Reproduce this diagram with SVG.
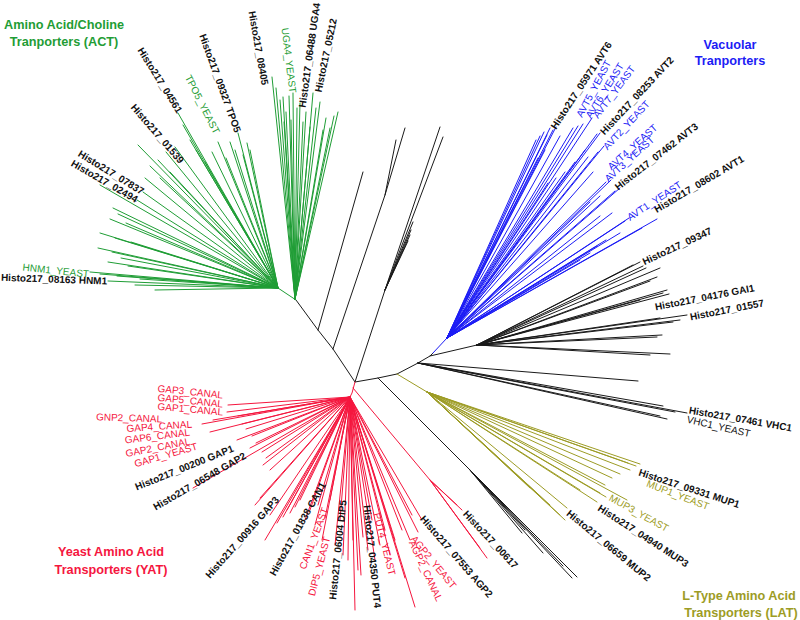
<svg xmlns="http://www.w3.org/2000/svg" width="800" height="620" viewBox="0 0 800 620">
<style>
.l{fill:none;stroke-width:1;stroke-linecap:round}
.lk{stroke:#1a1a1a}.lg{stroke:#1f9d35}.lb{stroke:#1c1cf5}.lr{stroke:#f5163e}.ly{stroke:#9d9c25}
text{font-family:"Liberation Sans",Arial,sans-serif;font-size:10px}
.b{font-weight:bold;fill:#111}
.k{fill:#111}
.g{fill:#1f9d35}.bl{fill:#1c1cf5}.r{fill:#f5163e}.y{fill:#9d9c25}
.e{text-anchor:end}
.t{font-size:12.7px;font-weight:bold;text-anchor:middle}
</style>
<rect width="800" height="620" fill="#fff"/>
<g id="backbone">
<path class="l lk" d="M296 300L318 330L333 349L355 382L378 378L397 374L418 363L430 356L433 353M430 356L477 345M318 330L363 172M333 349L385 195L405 128M385 195L396 140M355 382L385 290L440 127M385 290L443 137M385 290L413 222M385 290L411 230M385 290L410 235M385 290L408 241"/>
<path class="l lk" d="M477 345L633 265M477 345L640 262M477 345L643 266M477 345L646 268M477 345L660 268M477 345L657 277M477 345L650 281M477 345L663 293M477 345L667 290M477 345L669 294M477 345L640 300M477 345L687 315M477 345L673 322M477 345L680 320M477 345L660 318M477 345L657 337M477 345L662 335M477 345L650 355M477 345L670 354"/>
<path class="l lk" d="M418 363L638 381M418 363L663 406M418 363L675 412M418 363L687 413M418 363L667 419M418 363L660 416"/>
<path class="l lk" d="M378 378L470 470L577 577M470 470L572 578M470 470L563 566M470 470L543 553M470 470L525 530M470 470L522 533"/>
</g>
<g id="act">
<path class="l lg" d="M295 299L272 77M295 299L276 88M295 299L280 100M295 299L283 97M295 299L286 112M295 299L289 96M295 299L291 120M295 299L293 93M295 299L297 108M295 299L300 103M295 299L303 122M295 299L306 112M295 299L310 127M295 299L313 93M295 299L316 108M295 299L320 102M295 299L323 130M295 299L326 118M295 299L330 128M295 299L334 116M295 299L338 112M295 299L284 122"/>
<path class="l lg" d="M296 300L287 294L278 288M278 288L250 150M278 288L247 143M278 288L243 155M278 288L238 133M278 288L235 150M278 288L230 142M278 288L226 158M278 288L218 142M278 288L212 152M278 288L205 162M278 288L196 150M278 288L190 140M278 288L183 125M278 288L178 113M278 288L175 147M278 288L166 152M278 288L158 160M278 288L150 166M278 288L138 145M278 288L145 178M278 288L160 178M278 288L170 172M278 288L143 192M278 288L137 200M278 288L100 185M278 288L113 208M278 288L118 214M278 288L110 219M278 288L126 223M278 288L100 233M278 288L115 238M278 288L131 242M278 288L98 248M278 288L112 252M278 288L121 258M278 288L108 262M278 288L128 266M278 288L90 272M278 288L100 274M278 288L117 276M278 288L140 279M278 288L108 281M278 288L135 285M278 288L155 290"/>
<text class="g t" x="64" y="29">Amino Acid/Choline</text>
<text class="g t" x="64" y="46">Tranporters (ACT)</text>
<text class="b e" transform="translate(177 114) rotate(58)">Histo217_04561</text>
<text class="b e" transform="translate(179.4 164.3) rotate(49)">Histo217_01539</text>
<text class="g e" transform="translate(213.9 134.6) rotate(63)">TPO5_YEAST</text>
<text class="b e" transform="translate(234.7 133.2) rotate(70)">Histo217_09327 TPO5</text>
<text class="b e" transform="translate(261.6 85.6) rotate(80)">Histo217_08405</text>
<text class="g e" transform="translate(289.5 93.4) rotate(83)">UGA4_YEAST</text>
<text class="b" transform="translate(305.5 108) rotate(-82)">Histo217_06488 UGA4</text>
<text class="b" transform="translate(321.4 92.7) rotate(-78)">Histo217_05212</text>
<text class="b e" transform="translate(141.2 195) rotate(31.6)">Histo217_07837</text>
<text class="b e" transform="translate(135.3 203) rotate(30)">Histo217_02494</text>
<text class="g e" transform="translate(88.6 277.5) rotate(6)">HNM1_YEAST</text>
<text class="b e" transform="translate(107 284.5) rotate(2)">Histo217_08163 HNM1</text>
</g>
<g id="vacuolar">
<path class="l lb" d="M433 353L447 338M447 338L536 140M447 338L540 136M447 338L544 132M447 338L547 135M447 338L550 128M447 338L553 130M447 338L556 127M447 338L545 150M447 338L538 158M447 338L560 136M447 338L573 128M447 338L578 126M447 338L583 124M447 338L592 118M447 338L597 134M447 338L600 133M447 338L604 146M447 338L588 157M447 338L575 162M447 338L565 172M447 338L556 178M447 338L548 183M447 338L585 150M447 338L598 152M447 338L593 172M447 338L606 182M447 338L611 180M447 338L620 188M447 338L615 191M447 338L600 196M447 338L590 202M447 338L600 216M447 338L612 213M447 338L625 221M447 338L629 218M447 338L642 228M447 338L657 219M447 338L620 233M447 338L606 240M447 338L597 246M447 338L590 253M447 338L580 260"/>
<text class="bl t" x="730" y="49">Vacuolar</text>
<text class="bl t" x="730" y="65">Tranporters</text>
<text class="b" transform="translate(555.9 129.9) rotate(-56.5)">Histo217_05971 AVT6</text>
<text class="bl" transform="translate(582 118) rotate(-62)">AVT5_YEAST</text>
<text class="bl" transform="translate(591 119) rotate(-58)">AVT6_YEAST</text>
<text class="bl" transform="translate(598 119) rotate(-53)">AVT7_YEAST</text>
<text class="b" transform="translate(604.6 135.4) rotate(-47)">Histo217_08253 AVT2</text>
<text class="bl" transform="translate(607.6 150.4) rotate(-47)">AVT2_YEAST</text>
<text class="bl" transform="translate(611.5 170.5) rotate(-42)">AVT4_YEAST</text>
<text class="bl" transform="translate(608.5 182.5) rotate(-42)">AVT3_YEAST</text>
<text class="b" transform="translate(618.2 190.7) rotate(-38)">Histo217_07462 AVT3</text>
<text class="b" transform="translate(656.8 213) rotate(-30.6)">Histo217_08602 AVT1</text>
<text class="bl" transform="translate(629.9 220.9) rotate(-33)">AVT1_YEAST</text>
<text class="b" transform="translate(644.5 265.2) rotate(-25)">Histo217_09347</text>
<text class="b" transform="translate(655.7 310.4) rotate(-11)">Histo217_04176 GAI1</text>
<text class="b" transform="translate(690.7 320.4) rotate(-11)">Histo217_01557</text>
<text class="b" transform="translate(688.4 413.4) rotate(10)">Histo217_07461 VHC1</text>
<text class="k" transform="translate(686.2 422.4) rotate(13)">VHC1_YEAST</text>
</g>
<g id="lat">
<path class="l ly" d="M397 374L427 392M427 392L640 464M427 392L636 466M427 392L628 463M427 392L630 470M427 392L620 474M427 392L612 478M427 392L605 485M427 392L627 500M427 392L600 493M427 392L606 497M427 392L597 502M427 392L580 490M427 392L567 508M427 392L565 520M427 392L560 515M427 392L550 505M427 392L540 496M427 392L530 488"/>
<text class="b" transform="translate(637.9 475.3) rotate(18)">Histo217_09331 MUP1</text>
<text class="y" transform="translate(645.7 486.3) rotate(21)">MUP1_YEAST</text>
<text class="y" transform="translate(608.3 500) rotate(29)">MUP3_YEAST</text>
<text class="b" transform="translate(597.1 509.9) rotate(33)">Histo217_04940 MUP3</text>
<text class="b" transform="translate(565.8 514.7) rotate(39.5)">Histo217_06659 MUP2</text>
<text class="y t" x="739" y="600">L-Type Amino Acid</text>
<text class="y t" x="741" y="617">Transporters (LAT)</text>
</g>
<g id="yat">
<path class="l lr" d="M355 382L352 393L350 397M350 397L228 405M350 397L227 412M350 397L238 416M350 397L213 420M350 397L242 424M350 397L202 424M350 397L246 429M350 397L210 432M350 397L252 436M350 397L237 440M350 397L256 443M350 397L250 448M350 397L262 452M350 397L193 488M350 397L266 458M350 397L263 465M350 397L270 470M350 397L255 505M350 397L260 498M350 397L265 540M350 397L270 515M350 397L277 523M350 397L283 517M350 397L287 510M350 397L290 513M350 397L295 507M350 397L300 500M350 397L305 520M350 397L310 510M350 397L315 525M350 397L318 505M350 397L322 540M350 397L325 518M350 397L330 500M350 397L335 545M350 397L340 520M350 397L343 555M350 397L348 560M350 397L353 540M350 397L355 610M350 397L358 570M350 397L361 575M350 397L363 537M350 397L368 550M350 397L372 520M350 397L375 560M350 397L380 545M350 397L385 530M350 397L390 555M350 397L395 540M350 397L402 530M350 397L405 578M350 397L410 540M350 397L415 607M350 397L418 532M350 397L422 520M350 397L412 515M353 388L430 480L462 510M430 480L457 505M430 480L487 558M430 480L480 548"/>
<text class="r e" transform="translate(222.6 398.5) rotate(6)">GAP3_CANAL</text>
<text class="r e" transform="translate(222.6 407.5) rotate(6)">GAP5_CANAL</text>
<text class="r e" transform="translate(222.7 415.5) rotate(5)">GAP1_CANAL</text>
<text class="r e" transform="translate(162 422.5) rotate(2)">GNP2_CANAL</text>
<text class="r e" transform="translate(192.2 427.5) rotate(-4)">GAP4_CANAL</text>
<text class="r e" transform="translate(190.4 435.5) rotate(-7)">GAP6_CANAL</text>
<text class="r e" transform="translate(190.7 444.4) rotate(-11)">GAP2_CANAL</text>
<text class="r e" transform="translate(198 449.4) rotate(-16)">GAP1_YEAST</text>
<text class="b e" transform="translate(234.3 451.2) rotate(-22)">Histo217_00200 GAP1</text>
<text class="b e" transform="translate(246.8 458) rotate(-30)">Histo217_06548 GAP2</text>
<text class="b e" transform="translate(279.6 500.3) rotate(-48.5)">Histo217_00916 GAP3</text>
<text class="b e" transform="translate(326.1 484.7) rotate(-61)">Histo217_01838 CAN1</text>
<text class="r e" transform="translate(328.3 509.2) rotate(-69.5)">CAN1_YEAST</text>
<text class="r e" transform="translate(330.4 537.9) rotate(-75)">DIP5_YEAST</text>
<text class="b e" transform="translate(346.5 500.4) rotate(-84)">Histo217_06004 DIP5</text>
<text class="b" transform="translate(363.5 505.4) rotate(84)">Histo217_04350 PUT4</text>
<text class="r" transform="translate(373.6 513.8) rotate(76)">PUT4_YEAST</text>
<text class="r" transform="translate(410.3 539.2) rotate(50.5)">AGP2_YEAST</text>
<text class="r" transform="translate(408.8 542.5) rotate(65)">AGP2_CANAL</text>
<text class="b" transform="translate(419.4 519.3) rotate(49)">Histo217_07553 AGP2</text>
<text class="b" transform="translate(462.4 514.4) rotate(47)">Histo217_00617</text>
<text class="r t" x="111" y="556">Yeast Amino Acid</text>
<text class="r t" x="111" y="574">Transporters (YAT)</text>
</g>
</svg>
